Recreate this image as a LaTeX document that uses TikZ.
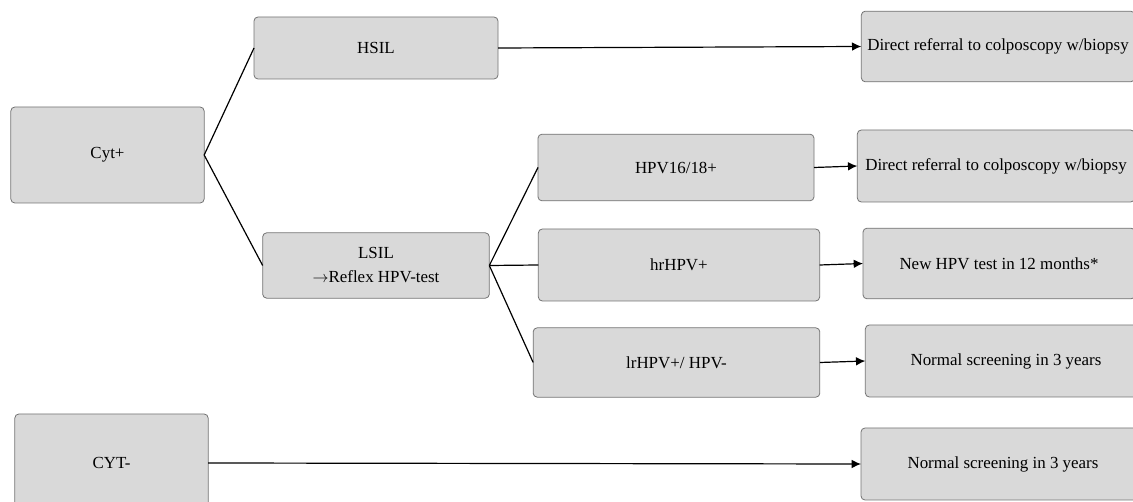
\documentclass[tikz,border=0pt]{standalone}
\usepackage{fontspec}
\setmainfont{Liberation Serif}
\usetikzlibrary{arrows.meta}

\begin{document}
\begin{tikzpicture}[> = {Latex[length=7pt,width=6.5pt]}, x=0.75pt, y=-0.75pt]
            \tikzstyle{caixa}=[rectangle, rounded corners=3pt, draw=gray!90!black, fill=gray!30, line width=0.6pt, outer sep=0pt, inner sep=2pt, font=\fontsize{12.7}{18}\selectfont, align=center]
            \tikzstyle{liga}=[-, line width=0.9pt]
            \tikzstyle{seta}=[->, line width=0.9pt]

                \useasboundingbox (0,0) rectangle (1133,502);

                % Caixas
                \node[caixa, minimum width=145pt, minimum height=72pt] (cytpos) at (107.5,155) {Cyt+};
                \node[caixa, minimum width=183pt, minimum height=46.5pt] (hsil) at (376,48) {HSIL};
                \node[caixa, minimum width=170pt, minimum height=49pt] (lsil) at (376,265.5) {LSIL\\$\rightarrow$Reflex HPV-test};
                \node[caixa, minimum width=207pt, minimum height=50pt] (hpvpos) at (676,167.5) {HPV16/18+};
                \node[caixa, minimum width=211pt, minimum height=54pt] (hrhpv) at (679,265) {hrHPV+};
                \node[caixa, minimum width=215pt, minimum height=52pt] (lrhpv) at (676.5,362.5) {lrHPV+/ HPV-};
                \node[caixa, minimum width=145pt, minimum height=73.5pt] (cytneg) at (111.5,463) {CYT-};
                \node[caixa, minimum width=205pt, minimum height=53pt] (colpoA) at (998,46.5) {Direct referral to colposcopy w/biopsy};
                \node[caixa, minimum width=208pt, minimum height=54pt] (colpoB) at (996,166) {Direct referral to colposcopy w/biopsy};
                \node[caixa, minimum width=204pt, minimum height=53pt] (novoteste) at (999,263.5) {New HPV test in 12 months*};
                \node[caixa, minimum width=211pt, minimum height=54pt] (rastreioA) at (1006,361) {Normal screening in 3 years};
                \node[caixa, minimum width=213pt, minimum height=54pt] (rastreioB) at (1003,464) {Normal screening in 3 years};

                % Ligacoes
                \draw[liga] (cytpos.east) -- (hsil.west);
                \draw[liga] (cytpos.east) -- (lsil.west);
                \draw[liga] (lsil.east) -- (hpvpos.west);
                \draw[liga] (lsil.east) -- (hrhpv.west);
                \draw[liga] (lsil.east) -- (lrhpv.west);

                \draw[seta] (hsil.east) -- (colpoA.west);
                \draw[seta] (hpvpos.east) -- (colpoB.west);
                \draw[seta] (hrhpv.east) -- (novoteste.west);
                \draw[seta] (lrhpv.east) -- (rastreioA.west);
                \draw[seta] (cytneg.east) -- (rastreioB.west);
        \end{tikzpicture}
\end{document}
